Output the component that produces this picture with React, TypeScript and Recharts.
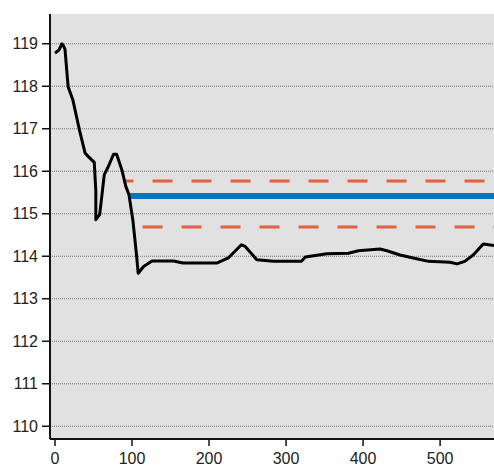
import React from "react";
import { LineChart, Line, XAxis, YAxis, CartesianGrid } from "recharts";

const seriesX = [0, 5, 9, 11, 13, 17, 23, 32, 39, 43, 51, 53, 53, 58, 64, 69, 76, 80, 87, 92, 96, 101, 104, 106, 108, 115, 126, 154, 166, 210, 225, 242, 247, 262, 284, 320, 325, 353, 381, 394, 422, 431, 448, 465, 485, 513, 522, 532, 543, 556, 563, 570];
const seriesY = [118.78, 118.85, 119.0, 118.95, 118.87, 117.99, 117.69, 116.95, 116.43, 116.35, 116.21, 115.53, 114.86, 114.98, 115.92, 116.1, 116.4, 116.4, 116.02, 115.64, 115.45, 114.86, 114.35, 114.0, 113.6, 113.76, 113.89, 113.89, 113.84, 113.84, 113.96, 114.27, 114.23, 113.92, 113.88, 113.88, 113.98, 114.06, 114.07, 114.13, 114.17, 114.13, 114.03, 113.96, 113.88, 113.86, 113.82, 113.88, 114.03, 114.29, 114.27, 114.25];

const meanX = [96, 570];
const meanY = [115.42, 115.42];
const upperX = [89, 570];
const upperY = [115.77, 115.77];
const lowerX = [89, 570];
const lowerY = [114.69, 114.69];

const xTicks = [0, 100, 200, 300, 400, 500];
const yTicks = [110, 111, 112, 113, 114, 115, 116, 117, 118, 119];

const zip = (xs: number[], ys: number[]) => xs.map((x, i) => ({ x, y: ys[i] }));

const mainData = zip(seriesX, seriesY);
const meanData = zip(meanX, meanY);
const upperData = zip(upperX, upperY);
const lowerData = zip(lowerX, lowerY);

const tickStyle = { fontFamily: "Liberation Sans, Arial, sans-serif", fontSize: 16, fill: "#222" };

export default function App() {
  return (
    <div style={{ position: "absolute", left: 0, top: 0, background: "#fff" }}>
      <LineChart width={494} height={466} margin={{ top: 14, right: 0, bottom: 0, left: 0 }}>
        <CartesianGrid
          vertical={false}
          horizontal={true}
          fill="#e1e1e1"
          stroke="#6e6e6e"
          strokeDasharray="1 1"
          horizontalValues={yTicks}
        />
        <XAxis
          type="number"
          dataKey="x"
          domain={[-6.5, 570]}
          allowDataOverflow
          ticks={xTicks}
          height={27}
          tickSize={7}
          tickMargin={7}
          axisLine={{ stroke: "#111", strokeWidth: 2 }}
          tickLine={{ stroke: "#111", strokeWidth: 1.5 }}
          tick={tickStyle}
        />
        <YAxis
          type="number"
          dataKey="y"
          domain={[109.7, 119.7]}
          allowDataOverflow
          ticks={yTicks}
          width={50}
          tickSize={8}
          tickMargin={4}
          axisLine={{ stroke: "#111", strokeWidth: 2 }}
          tickLine={{ stroke: "#111", strokeWidth: 1.5 }}
          tick={tickStyle}
        />
        <Line data={upperData} dataKey="y" type="linear" stroke="#e4603f" strokeWidth={3} strokeDasharray="20 19" strokeDashoffset={10} dot={false} isAnimationActive={false} />
        <Line data={lowerData} dataKey="y" type="linear" stroke="#e4603f" strokeWidth={3} strokeDasharray="20 19" strokeDashoffset={20} dot={false} isAnimationActive={false} />
        <Line data={meanData} dataKey="y" type="linear" stroke="#0a78bf" strokeWidth={6} dot={false} isAnimationActive={false} />
        <Line data={mainData} dataKey="y" type="linear" stroke="#000" strokeWidth={3} strokeLinejoin="round" dot={false} isAnimationActive={false} />
      </LineChart>
    </div>
  );
}
